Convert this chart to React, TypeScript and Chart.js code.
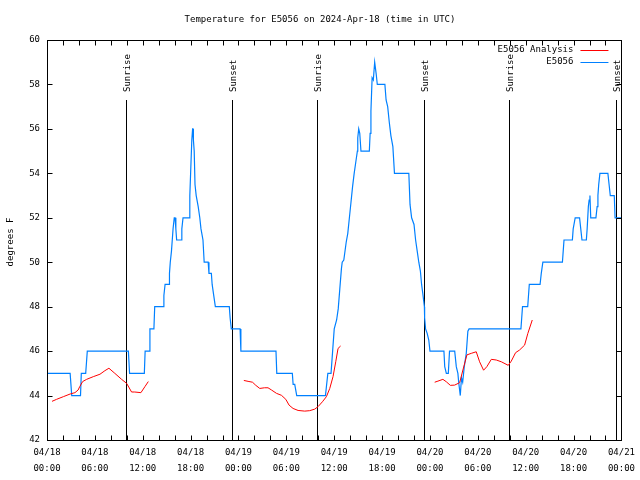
import React, { useEffect, useRef } from 'react';
import { Chart, registerables } from 'chart.js';

Chart.register(...registerables);

// ---- data (hours since 2024-04-18 00:00 UTC) ----
const titleText = 'Temperature for E5056 on 2024-Apr-18 (time in UTC)';
const yAxisLabel = 'degrees F';
const dayLabels = ['04/18', '04/19', '04/20', '04/21'];
const timeLabels = ['00:00', '06:00', '12:00', '18:00'];

const obsHours = [
  0, 2.9, 3.1, 4.2, 4.3, 4.85, 4.95, 5.05, 10.2, 10.35, 12.2, 12.3, 12.8, 12.9, 13.4, 13.5,
  14.6, 14.65, 14.8, 15.3, 15.35, 15.45, 15.6, 15.7, 15.8, 15.95, 16.05, 16.15, 16.25, 16.85,
  16.9, 17.05, 17.85, 17.9, 18.0, 18.15, 18.25, 18.3, 18.35, 18.45, 18.55, 18.7, 18.95, 19.15,
  19.3, 19.55, 19.7, 20.2, 20.3, 20.6, 20.7, 20.9, 21.1, 22.85, 22.95, 23.1, 24.2, 24.3, 28.7,
  28.8, 30.75, 30.85, 31.05, 31.3, 34.9, 35.05, 35.2, 35.6, 35.8, 36.0, 36.06, 36.3, 36.5, 36.7,
  36.9, 37.0, 37.2, 37.5, 37.7, 37.9, 38.1, 38.3, 38.5, 38.7, 38.9, 38.95, 39.07, 39.2, 39.35,
  40.4, 40.5, 40.6, 40.75, 40.9, 41.07, 41.25, 41.4, 42.35, 42.5, 42.7, 42.9, 43.1, 43.35, 43.55,
  45.35, 45.5, 45.7, 46.0, 46.2, 46.4, 46.6, 46.8, 46.95, 47.1, 47.3, 47.33, 47.45, 47.65, 47.85,
  48.0, 49.75, 49.85, 50.05, 50.3, 50.45, 51.1, 51.3, 51.5, 51.6, 51.8, 51.95, 52.1, 52.3, 52.55,
  52.75, 52.9, 59.4, 59.5, 59.6, 60.25, 60.35, 60.45, 61.8, 61.95, 62.15, 64.6, 64.7, 64.8, 65.85,
  65.95, 66.2, 66.75, 66.9, 67.05, 67.6, 67.7, 67.85, 67.95, 68.05, 68.15, 68.8, 68.95, 69.05,
  69.15, 69.3, 70.3, 70.45, 70.6, 71.1, 71.2, 72,
];
const obsTemps = [
  45, 45, 44, 44, 45, 45, 45.5, 46, 46, 45, 45, 46, 46, 47, 47, 48,
  48, 48.5, 49, 49, 49.5, 50, 50.5, 51, 51.5, 52, 52, 51.5, 51, 51,
  51.5, 52, 52, 53, 54, 55.5, 56, 56, 55.5, 55, 53.5, 53, 52.5, 52,
  51.5, 51, 50, 50, 49.5, 49.5, 49, 48.5, 48, 48, 47.5, 47, 47, 46, 46,
  45, 45, 44.5, 44.5, 44, 44, 44.5, 45, 45, 46, 47, 47, 47.4, 47.9, 48.8,
  49.7, 50, 50.1, 50.9, 51.3, 52, 52.7, 53.4, 54, 54.5, 55, 55.6, 56, 55.8, 55,
  55, 55.8, 56.8, 58.3, 58.2, 59, 58.5, 58, 58, 57.3, 57, 56.3, 55.7, 55.2, 54,
  54, 52.6, 52, 51.7, 51, 50.5, 50, 49.6, 49, 48.6, 48, 47.5, 47, 46.8, 46.5,
  46, 46, 45.3, 45, 45, 46, 46, 45.3, 45, 44.6, 44, 44.8, 44.6, 45.3, 45.9,
  46.9, 47, 47, 47.5, 48, 48, 48.5, 49, 49, 49.5, 50, 50, 50.5, 51, 51,
  51.5, 52, 52, 51.5, 51, 51, 51.5, 52.5, 52.8, 53, 52, 52, 52.5, 53,
  53.5, 54, 54, 53.5, 53, 53, 52, 52,
];

// analysis series; null marks a gap between runs
const analysisHours = [
  0.63, 1.2, 2.05, 2.9, 3.5, 3.9, 4.1, 4.47, 4.97, 5.8, 6.64, 7.26, 7.76, 8.5, 9.35, 9.98,
  10.6, 11.0, 11.77, 12.27, 12.7,
  18,
  24.67, 25.2, 25.76, 26.17, 26.67, 27.26, 27.7, 28.14, 28.76, 29.39, 29.93, 30.34, 30.84,
  31.47, 32.3, 32.93, 33.56, 33.97, 34.52, 35.02, 35.44, 35.85, 36.19, 36.48, 36.8,
  42,
  48.59, 49.0, 49.62, 50.05, 50.55, 51.09, 51.72, 52.13, 52.63, 53.18, 53.8, 54.22, 54.72,
  55.13, 55.69, 56.31, 56.94, 57.81, 58.19, 58.73, 59.23, 59.86, 60.27, 60.82,
];
const analysisTemps = [
  43.74, 43.83, 43.95, 44.07, 44.13, 44.25, 44.4, 44.63, 44.73, 44.85, 44.96, 45.12, 45.23,
  45.0, 44.73, 44.55, 44.16, 44.16, 44.13, 44.4, 44.63,
  null,
  44.68, 44.64, 44.6, 44.46, 44.32, 44.35, 44.35, 44.25, 44.1, 44.01, 43.83, 43.57, 43.42,
  43.33, 43.3, 43.32, 43.39, 43.5, 43.72, 43.95, 44.32, 44.85, 45.52, 46.12, 46.23,
  null,
  44.6, 44.65, 44.73, 44.62, 44.46, 44.47, 44.58, 45.15, 45.83, 45.9, 45.97, 45.52, 45.14,
  45.3, 45.63, 45.6, 45.52, 45.36, 45.55, 45.93, 46.05, 46.27, 46.8, 47.4,
];

const sunriseHours = [9.95, 33.88, 57.92];
const sunsetHours = [23.22, 47.28, 71.32];
const eventLineTopTemp = 57.3;

const FONT = '"DejaVu Sans Mono", monospace';

const overlayPlugin = {
  id: 'overlay',
  beforeDatasetsDraw(chart: any) {
    const { ctx, chartArea: a, scales } = chart;
    const xs = scales.x;
    const ys = scales.y;
    ctx.save();
    ctx.strokeStyle = '#000';
    ctx.fillStyle = '#000';
    ctx.lineWidth = 1;
    ctx.font = `9px ${FONT}`;
    const topY = ys.getPixelForValue(eventLineTopTemp);
    const events = [
      ...sunriseHours.map((h) => ({ h, label: 'Sunrise' })),
      ...sunsetHours.map((h) => ({ h, label: 'Sunset' })),
    ];
    events.forEach((ev) => {
      const px = Math.round(xs.getPixelForValue(ev.h)) + 0.5;
      ctx.beginPath();
      ctx.moveTo(px, topY);
      ctx.lineTo(px, a.bottom);
      ctx.stroke();
      ctx.save();
      ctx.translate(px + 1, topY - 8);
      ctx.rotate(-Math.PI / 2);
      ctx.textAlign = 'left';
      ctx.textBaseline = 'middle';
      ctx.fillText(ev.label, 0, 0);
      ctx.restore();
    });
    ctx.restore();
  },
  afterDraw(chart: any) {
    const { ctx, chartArea: a, scales } = chart;
    const xs = scales.x;
    const ys = scales.y;
    ctx.save();
    ctx.strokeStyle = '#000';
    ctx.lineWidth = 1;
    const L = Math.round(a.left) + 0.5;
    const R = Math.round(a.right) + 0.5;
    const T = Math.round(a.top) + 0.5;
    const B = Math.round(a.bottom) + 0.5;
    ctx.strokeRect(L, T, R - L, B - T);
    const tl = 5;
    ctx.beginPath();
    xs.ticks.forEach((t: any) => {
      const px = Math.round(xs.getPixelForValue(t.value)) + 0.5;
      ctx.moveTo(px, B);
      ctx.lineTo(px, B - tl);
      ctx.moveTo(px, T);
      ctx.lineTo(px, T + tl);
    });
    ys.ticks.forEach((t: any) => {
      const py = Math.round(ys.getPixelForValue(t.value)) + 0.5;
      ctx.moveTo(L, py);
      ctx.lineTo(L + tl, py);
      ctx.moveTo(R, py);
      ctx.lineTo(R - tl, py);
    });
    ctx.stroke();

    // title
    ctx.fillStyle = '#000';
    ctx.font = `9px ${FONT}`;
    ctx.textAlign = 'center';
    ctx.textBaseline = 'middle';
    ctx.fillText(titleText, chart.width / 2, 20);

    // y-axis label
    ctx.save();
    ctx.translate(11, (a.top + a.bottom) / 2 + 2);
    ctx.rotate(-Math.PI / 2);
    ctx.fillText(yAxisLabel, 0, 0);
    ctx.restore();

    // legend
    const ds = chart.data.datasets;
    const textRight = a.right - 48;
    ds.forEach((d: any, i: number) => {
      const ly = a.top + 10 + i * 12;
      ctx.textAlign = 'right';
      ctx.fillStyle = '#000';
      ctx.fillText(d.label, textRight, ly);
      ctx.strokeStyle = d.borderColor;
      ctx.beginPath();
      ctx.moveTo(textRight + 7, Math.round(ly) + 0.5);
      ctx.lineTo(textRight + 35, Math.round(ly) + 0.5);
      ctx.stroke();
    });
    ctx.restore();
  },
};

export default function App() {
  const ref = useRef<HTMLCanvasElement | null>(null);
  useEffect(() => {
    if (!ref.current) return;
    const chart = new Chart(ref.current, {
      type: 'line',
      data: {
        datasets: [
          {
            label: 'E5056 Analysis',
            data: analysisHours.map((h, i) => ({ x: h, y: analysisTemps[i] })) as any,
            borderColor: '#ff0000',
            borderWidth: 1,
            pointRadius: 0,
            spanGaps: false,
            tension: 0,
          },
          {
            label: 'E5056',
            data: obsHours.map((h, i) => ({ x: h, y: obsTemps[i] })),
            borderColor: '#0080ff',
            borderWidth: 1.2,
            pointRadius: 0,
            tension: 0,
          },
        ],
      },
      options: {
        responsive: false,
        animation: false,
        layout: { padding: { top: 40, right: 18, left: 0, bottom: 0 } },
        plugins: {
          legend: { display: false },
          title: { display: false },
          tooltip: { enabled: false },
        },
        scales: {
          x: {
            type: 'linear',
            min: 0,
            max: 72,
            grid: { display: false, drawTicks: false },
            border: { display: false },
            ticks: {
              stepSize: 2,
              autoSkip: false,
              maxRotation: 0,
              padding: 5,
              color: '#000',
              font: { family: FONT, size: 9, lineHeight: '16px' as any },
              callback: (v: any) => {
                const h = Number(v);
                if (h % 6 !== 0) return '';
                const day = Math.floor(h / 24);
                const slot = (h % 24) / 6;
                return [dayLabels[day], timeLabels[slot]];
              },
            },
            afterFit: (s: any) => {
              s.height = 40;
            },
          },
          y: {
            min: 42,
            max: 60,
            grid: { display: false, drawTicks: false },
            border: { display: false },
            ticks: {
              stepSize: 2,
              padding: 7,
              color: '#000',
              font: { family: FONT, size: 9 },
            },
            afterFit: (s: any) => {
              s.width = 47;
            },
          },
        },
      },
      plugins: [overlayPlugin],
    });
    return () => chart.destroy();
  }, []);
  return (
    <div style={{ position: 'absolute', left: 0, top: 0, width: 640, height: 480, background: '#fff' }}>
      <canvas ref={ref} width={640} height={480} style={{ display: 'block' }} />
    </div>
  );
}
